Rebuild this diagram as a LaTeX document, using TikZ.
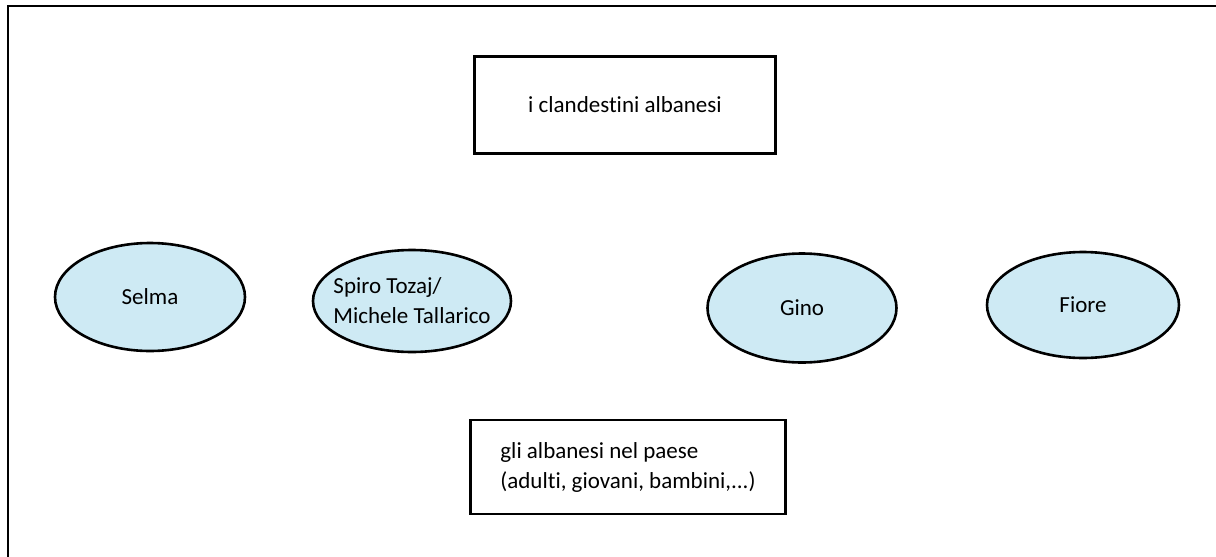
\documentclass[tikz,border=0pt]{standalone}
\usepackage{fontspec}
\setmainfont{Carlito}[Ligatures={NoCommon}]
\usepackage{tikz}
\usetikzlibrary{shapes.geometric}
\definecolor{personfill}{RGB}{206,234,244}

\begin{document}
\begin{tikzpicture}[x=1pt,y=-1pt,
        font=\fontsize{23}{30}\selectfont,
        group/.style={draw,line width=2.6pt,rectangle,inner sep=0pt,align=left},
        person/.style={draw,line width=2.6pt,ellipse,fill=personfill,inner sep=0pt,align=left}]

  \useasboundingbox (0,0) rectangle (1216,557);
  \draw[line width=2pt] (8,557) -- (8,6) -- (1216,6);

  \node[group,minimum width=301pt,minimum height=97pt] (clandestini) at (625,105) {i clandestini albanesi};
  \node[group,minimum width=315pt,minimum height=94pt] (paese) at (628,467)
      {gli albanesi nel paese\\(adulti, giovani, bambini,...)};

  \node[person,minimum width=190pt,minimum height=108pt] (selma) at (150,297) {Selma};
  \node[person,inner xsep=-14pt,minimum width=198pt,minimum height=102pt] (spiro) at (412,301) {Spiro Tozaj/\\Michele Tallarico};
  \node[person,minimum width=189pt,minimum height=109pt] (gino) at (802,308) {Gino};
  \node[person,minimum width=192pt,minimum height=106pt] (fiore) at (1083,305) {Fiore};

\end{tikzpicture}
\end{document}
